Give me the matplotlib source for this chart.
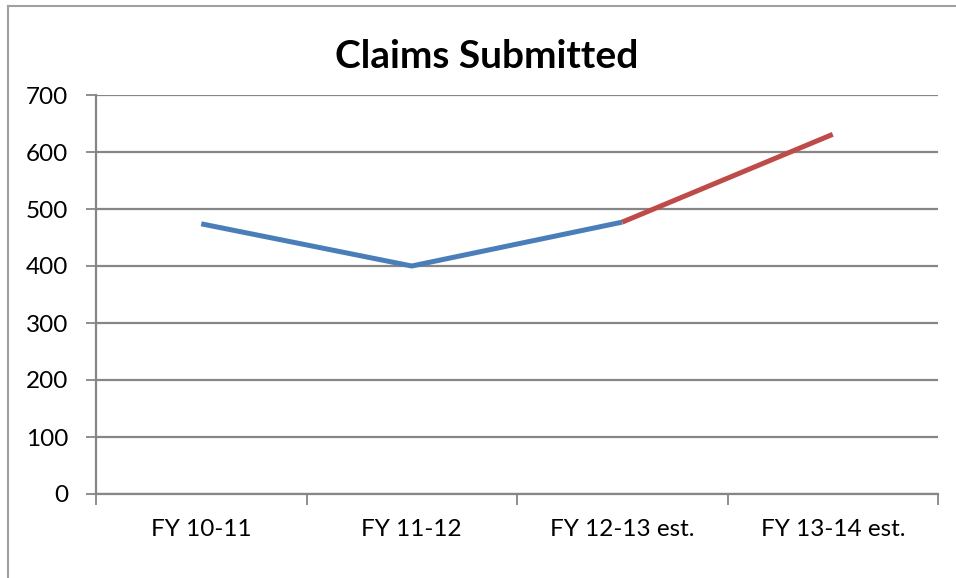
import matplotlib.pyplot as plt
import matplotlib.lines as mlines

categories = ['FY 10-11', 'FY 11-12', 'FY 12-13 est.', 'FY 13-14 est.']
actual = [474, 400, 477]
estimate = [477, 631]
yticks = [0, 100, 200, 300, 400, 500, 600, 700]

plt.rcParams['font.family'] = ['Lato', 'DejaVu Sans']

fig = plt.figure(figsize=(9.56, 5.78), dpi=100)
ax = fig.add_axes([96/956, 1 - 494/578, (938 - 96)/956, (494 - 95)/578])

gray = '#868686'
x = list(range(len(categories)))
ax.plot(x[:3], actual, color='#4A7EBB', lw=3.6, solid_capstyle='butt', zorder=3)
ax.plot(x[2:], estimate, color='#BE4B48', lw=3.6, solid_capstyle='butt', zorder=3)

ax.set_xlim(-0.5, 3.5)
ax.set_ylim(0, 700)
ax.set_yticks(yticks)
ax.set_yticklabels([str(v) for v in yticks], fontsize=17.5)
ax.yaxis.grid(True, color=gray, lw=1.6)
ax.set_axisbelow(True)
ax.tick_params(axis='y', length=7, width=1.3, color=gray, pad=13)

ax.set_xticks([-0.5, 0.5, 1.5, 2.5, 3.5])
ax.set_xticklabels([])
ax.tick_params(axis='x', length=8, width=1.3, color=gray)
ax.set_xticks(x, minor=True)
ax.set_xticklabels(categories, minor=True, fontsize=17.5)
ax.tick_params(axis='x', which='minor', length=0, pad=18)

for side in ['top', 'right']:
    ax.spines[side].set_visible(False)
for side in ['left', 'bottom']:
    ax.spines[side].set_color(gray)
    ax.spines[side].set_linewidth(1.6)

fig.text(487/956, 1 - 56/578, 'Claims Submitted', ha='center', va='center',
         fontsize=28, fontweight='bold')

# outer chart frame (left and top edges visible)
fig.add_artist(mlines.Line2D([8/956, 8/956], [0, 1 - 6/578], color='#A0A0A0', lw=1.5))
fig.add_artist(mlines.Line2D([8/956, 1], [1 - 6/578, 1 - 6/578], color='#A0A0A0', lw=1.5))

fig.savefig('out.png', dpi=100)
